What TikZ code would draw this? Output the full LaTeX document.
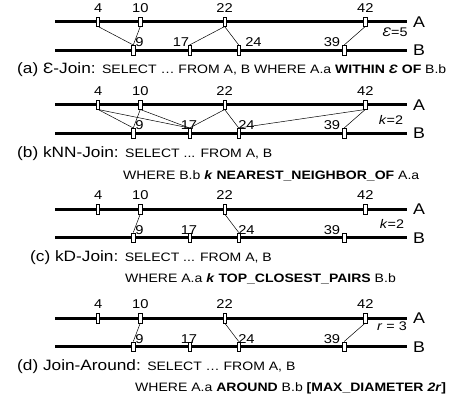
\documentclass[tikz,border=0pt]{standalone}
\usepackage{fontspec}
\setmainfont{Liberation Sans}[FakeStretch=1.15]
\usepackage{tikz}
\usetikzlibrary{positioning}
\newcommand{\sqlfont}{\fontsize{12.2}{14}\selectfont}

\begin{document}
\begin{tikzpicture}[x=1pt, y=-1pt,
  axis/.style={line width=3pt},
  tick/.style={draw, fill=white, line width=0.5pt, inner sep=0pt,
               minimum width=3.2pt, minimum height=9.5pt},
  link/.style={line width=0.5pt},
  num/.style={font=\fontsize{12.8}{14}\selectfont, inner sep=0pt, anchor=base},
  side/.style={font=\fontsize{15.5}{17}\selectfont, inner sep=0pt, anchor=base west},
  param/.style={font=\fontsize{12.5}{14}\selectfont, inner sep=0pt, anchor=base},
  head/.style={font=\fontsize{15}{17}\selectfont, inner sep=0pt, anchor=base west},
  sql/.style={font=\sqlfont, inner sep=0pt, anchor=base west}
]
\useasboundingbox (0,0) rectangle (467,402);

% number lines A and B with their ticks, one pair per panel
\foreach \p/\ya/\xs/\xt in {a/21.5/181/253.5, b/104.5/189/246.5,
                            c/209/189/246.5, d/318/189/246.5} {
  \draw[axis] (55,\ya) -- (407,\ya);
  \draw[axis] (55,\ya+28.5) -- (407,\ya+28.5);
  \node[side] (\p-A) at (413,\ya+5.5)  {A};
  \node[side] (\p-B) at (413,\ya+34)   {B};
  \foreach \v in {4,10,22,42} {
    \node[tick] (\p-A\v) at ({70+7.03*\v},\ya) {};
    \node[num]  (\p-A\v-num) at ({70+7.03*\v},\ya-9.5) {\v};
  }
  \foreach \v in {9,17,24,39}
    \node[tick] (\p-B\v) at ({70+7.03*\v},\ya+28.5) {};
  \node[num] (\p-B9-num)  at (139.5,\ya+25) {9};
  \node[num] (\p-B17-num) at (\xs,\ya+25) {17};
  \node[num] (\p-B24-num) at (\xt,\ya+25) {24};
  \node[num] (\p-B39-num) at (332,\ya+25) {39};
}

% join pairs
\foreach \s/\t in {A4/B9, A10/B9, A22/B17, A22/B24, A42/B39}
  \draw[link] (a-\s.south) -- (a-\t.north);
\foreach \s/\t in {A4/B9, A4/B17, A10/B9, A10/B17, A22/B17, A22/B24, A42/B24, A42/B39}
  \draw[link] (b-\s.south) -- (b-\t.north);
\foreach \s/\t in {A10/B9, A22/B24}
  \draw[link] (c-\s.south) -- (c-\t.north);
\foreach \s/\t in {A10/B9, A22/B24, A42/B39}
  \draw[link] (d-\s.south) -- (d-\t.north);

% parameters
\node[param] (a-par) at (395,36)  {\textit{Ɛ}=5};
\node[param] (b-par) at (391,124) {\textit{k}=2};
\node[param] (c-par) at (392,228) {\textit{k}=2};
\node[param] (d-par) at (392,330) {\textit{r} = 3};

% captions
\node[head] (a-cap) at (17,73.5)
  {(a) Ɛ-Join: {\sqlfont SELECT … FROM A, B WHERE A.a \textbf{WITHIN \textit{Ɛ} OF} B.b}};
\node[head] (b-cap) at (17,157) {(b) kNN-Join: {\sqlfont SELECT ... FROM A, B}};
\node[sql]  (b-cap2) at (123,179) {WHERE B.b \textbf{\textit{k} NEAREST\_NEIGHBOR\_OF} A.a};
\node[head] (c-cap) at (30,261.5) {(c) kD-Join: {\sqlfont SELECT ... FROM A, B}};
\node[sql]  (c-cap2) at (125,282) {WHERE A.a \textbf{\textit{k} TOP\_CLOSEST\_PAIRS} B.b};
\node[head] (d-cap) at (17,370.5) {(d) Join-Around: {\sqlfont SELECT … FROM A, B}};
\node[sql]  (d-cap2) at (135,391.5) {WHERE A.a \textbf{AROUND} B.b \textbf{[MAX\_DIAMETER \textit{2r}]}};

\end{tikzpicture}
\end{document}
